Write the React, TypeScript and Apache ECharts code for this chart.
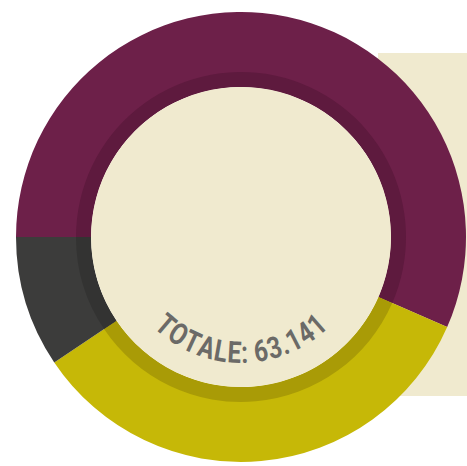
import React, { useEffect, useRef } from "react";
import * as echarts from "echarts";

const categories = ["Viola", "Giallo", "Grigio"];
const values = [35710, 21485, 5946];
const colors = ["#6d2049", "#c6b807", "#3c3c3b"];
const darkColors = ["#5e1a3e", "#a99b06", "#333332"];
const totalLabel = "TOTALE: 63.141";

export default function App() {
  const ref = useRef<HTMLDivElement>(null);
  useEffect(() => {
    document.body.style.margin = "0";
    const chart = echarts.init(ref.current!, undefined, { renderer: "svg" });
    const cx = 241, cy = 237;
    const R = 116;
    const fontSize = 30;
    const sx = 0.81;
    const font = `bold ${fontSize}px Roboto`;
    const canvas = document.createElement("canvas");
    const ctx = canvas.getContext("2d")!;
    ctx.font = font;
    const chars = totalLabel.split("");
    const widths = chars.map((c) => ctx.measureText(c).width * sx);
    const L = widths.reduce((a, b) => a + b, 0);
    let acc = 0;
    const textEls = chars.map((c, i) => {
      const s = acc + widths[i] / 2 - L / 2;
      acc += widths[i];
      const phi = s / R;
      return {
        type: "text",
        x: cx + R * Math.sin(phi),
        y: cy + R * Math.cos(phi),
        rotation: phi,
        scaleX: sx,
        z: 20,
        style: {
          text: c,
          font,
          fill: "#6b6a67",
          align: "center",
          verticalAlign: "middle",
        },
      };
    });
    chart.setOption({
      animation: false,
      graphic: [
        { type: "rect", z: 0, shape: { x: 378, y: 53, width: 100, height: 343 }, style: { fill: "#f0eacf" } },
        { type: "circle", z: 15, shape: { cx, cy, r: 150 }, style: { fill: "#f0eacf" } },
        ...textEls,
      ],
      series: [
        {
          type: "pie",
          z: 2,
          center: [cx, cy],
          radius: [150, 225],
          startAngle: 180,
          clockwise: true,
          silent: true,
          label: { show: false },
          labelLine: { show: false },
          data: categories.map((n, i) => ({ name: n, value: values[i], itemStyle: { color: colors[i] } })),
        },
        {
          type: "pie",
          z: 3,
          center: [cx, cy],
          radius: [150, 165],
          startAngle: 180,
          clockwise: true,
          silent: true,
          label: { show: false },
          labelLine: { show: false },
          data: categories.map((n, i) => ({ name: n, value: values[i], itemStyle: { color: darkColors[i] } })),
        },
      ],
    });
    return () => chart.dispose();
  }, []);
  return <div ref={ref} style={{ width: 467, height: 466 }} />;
}
